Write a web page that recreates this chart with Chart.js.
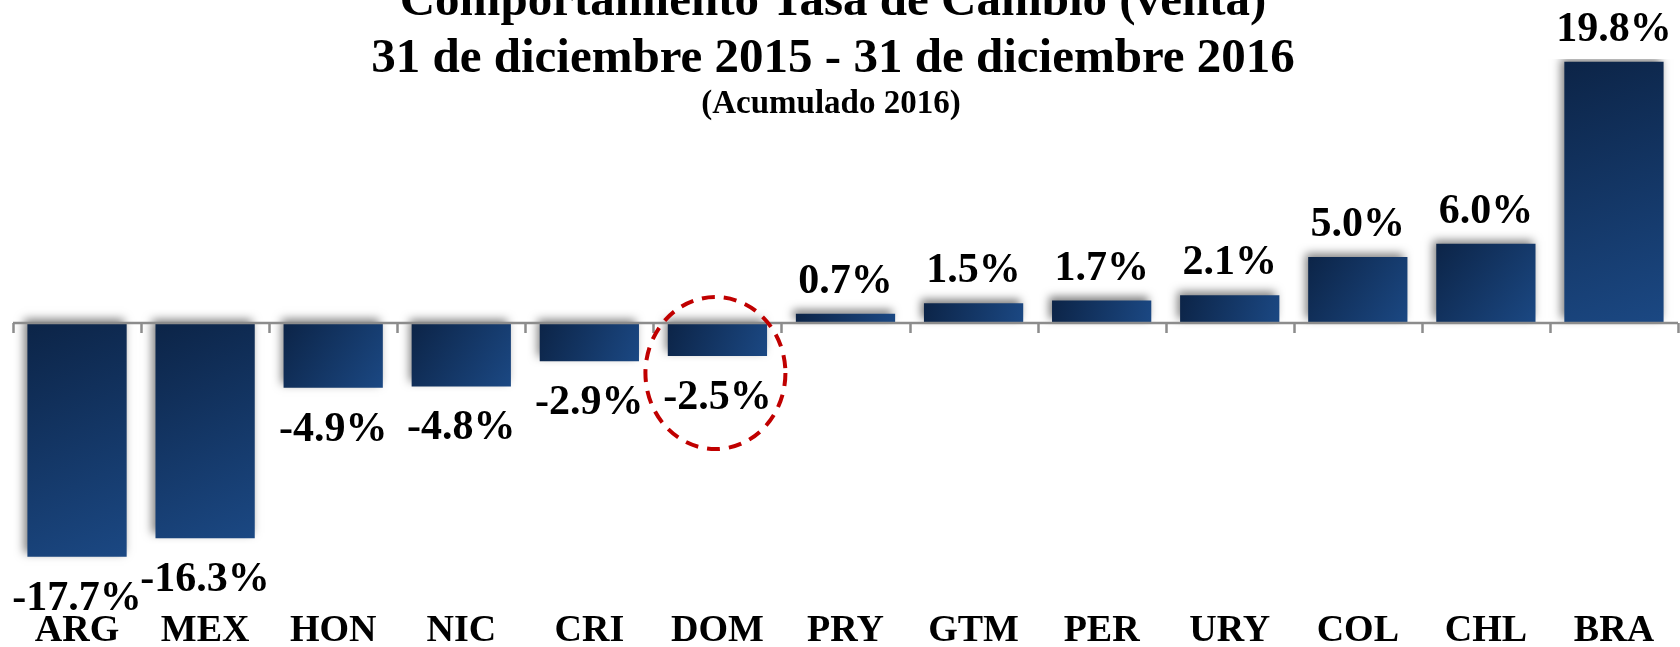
<!DOCTYPE html>
<html>
<head>
<meta charset="utf-8">
<script src="https://cdn.jsdelivr.net/npm/chart.js@4.4.1/dist/chart.umd.min.js"></script>
<style>
  html, body { margin: 0; padding: 0; background: #fff; }
  .chart-container { position: relative; width: 1680px; height: 647px; }
</style>
</head>
<body>
<div class="chart-container">
  <canvas id="myChart"></canvas>
</div>
<script>
// --- datos ---
const categories = ['ARG', 'MEX', 'HON', 'NIC', 'CRI', 'DOM', 'PRY', 'GTM', 'PER', 'URY', 'COL', 'CHL', 'BRA'];
const values = [-17.7, -16.3, -4.9, -4.8, -2.9, -2.5, 0.7, 1.5, 1.7, 2.1, 5.0, 6.0, 19.8];
const titleLines = [
  'Comportamiento Tasa de Cambio (venta)',
  '31 de diciembre 2015 - 31 de diciembre 2016',
  '(Acumulado 2016)'
];
const highlightIndex = 5; // DOM, circulado en rojo

const SERIF = '"Liberation Serif", "Times New Roman", serif';

// gradiente por barra (oscuro arriba-izq, más claro abajo-der)
function barGradient(context) {
  const chart = context.chart;
  const xs = chart.scales.x, ys = chart.scales.y;
  if (!xs || !ys || context.dataIndex === undefined) return '#153a6b';
  const cx = xs.getPixelForValue(context.dataIndex);
  const w = xs.width / categories.length * 0.775;
  const y0 = ys.getPixelForValue(0);
  const y1 = ys.getPixelForValue(values[context.dataIndex]);
  if (![cx, w, y0, y1].every(Number.isFinite)) return '#153a6b';
  const g = chart.ctx.createLinearGradient(cx - w / 2, Math.min(y0, y1), cx + w / 2, Math.max(y0, y1));
  g.addColorStop(0, '#0c2447');
  g.addColorStop(1, '#1b4883');
  return g;
}

// sombra de las barras
const barShadow = {
  id: 'barShadow',
  beforeDatasetDraw(chart) {
    const ctx = chart.ctx;
    ctx.save();
    ctx.shadowColor = 'rgba(0,0,0,0.5)';
    ctx.shadowBlur = 9;
    ctx.shadowOffsetX = -3;
    ctx.shadowOffsetY = -4;
  },
  afterDatasetDraw(chart) {
    chart.ctx.restore();
  }
};

// eje en cero, etiquetas, círculo y títulos
const extras = {
  id: 'extras',
  afterDatasetsDraw(chart) {
    const ctx = chart.ctx;
    const xs = chart.scales.x, ys = chart.scales.y;
    const area = chart.chartArea;
    const zeroY = ys.getPixelForValue(0);
    const step = xs.width / categories.length;

    ctx.save();
    // linea del eje
    ctx.strokeStyle = '#8c8c8c';
    ctx.lineWidth = 2.5;
    ctx.beginPath();
    ctx.moveTo(area.left, zeroY);
    ctx.lineTo(area.right, zeroY);
    for (let i = 0; i <= categories.length; i++) {
      const tx = Math.round(xs.getPixelForValue(i) - step / 2) + 0.5;
      ctx.moveTo(tx, zeroY);
      ctx.lineTo(tx, zeroY + 10);
    }
    ctx.stroke();

    // etiquetas de datos
    ctx.fillStyle = '#000';
    ctx.font = 'bold 42px ' + SERIF;
    ctx.textAlign = 'center';
    ctx.textBaseline = 'alphabetic';
    const meta = chart.getDatasetMeta(0);
    meta.data.forEach((bar, i) => {
      const v = values[i];
      const txt = v.toFixed(1) + '%';
      const ly = v >= 0 ? bar.y - 21 : bar.y + 53;
      ctx.fillText(txt, bar.x, ly);
    });

    // círculo punteado en DOM
    const hb = meta.data[highlightIndex];
    ctx.strokeStyle = '#c00000';
    ctx.lineWidth = 4;
    ctx.setLineDash([13, 9]);
    ctx.beginPath();
    ctx.ellipse(hb.x - 2, hb.y + 17, 70, 76, 0, 0, Math.PI * 2);
    ctx.stroke();
    ctx.setLineDash([]);

    // títulos
    ctx.fillStyle = '#000';
    ctx.font = 'bold 49px ' + SERIF;
    ctx.fillText(titleLines[0], 833, 15);
    ctx.fillText(titleLines[1], 833, 72);
    ctx.font = 'bold 33px ' + SERIF;
    ctx.fillText(titleLines[2], 831, 113);
    ctx.restore();
  }
};

const ctx = document.getElementById('myChart').getContext('2d');
new Chart(ctx, {
  type: 'bar',
  data: {
    labels: categories,
    datasets: [{
      data: values,
      backgroundColor: barGradient,
      borderWidth: 0,
      barPercentage: 0.775,
      categoryPercentage: 1
    }]
  },
  options: {
    responsive: true,
    maintainAspectRatio: false,
    animation: false,
    devicePixelRatio: 1,
    layout: { padding: { top: 59, left: 13, right: 2, bottom: 0 } },
    plugins: {
      legend: { display: false },
      title: { display: false },
      tooltip: { enabled: false }
    },
    scales: {
      x: {
        grid: { display: false, drawTicks: false },
        border: { display: false },
        ticks: {
          color: '#000',
          padding: 0,
          font: { family: SERIF, size: 38, weight: 'bold', lineHeight: 0.82 }
        }
      },
      y: {
        display: false,
        min: -22.18,
        max: 20
      }
    }
  },
  plugins: [barShadow, extras]
});
</script>
</body>
</html>
